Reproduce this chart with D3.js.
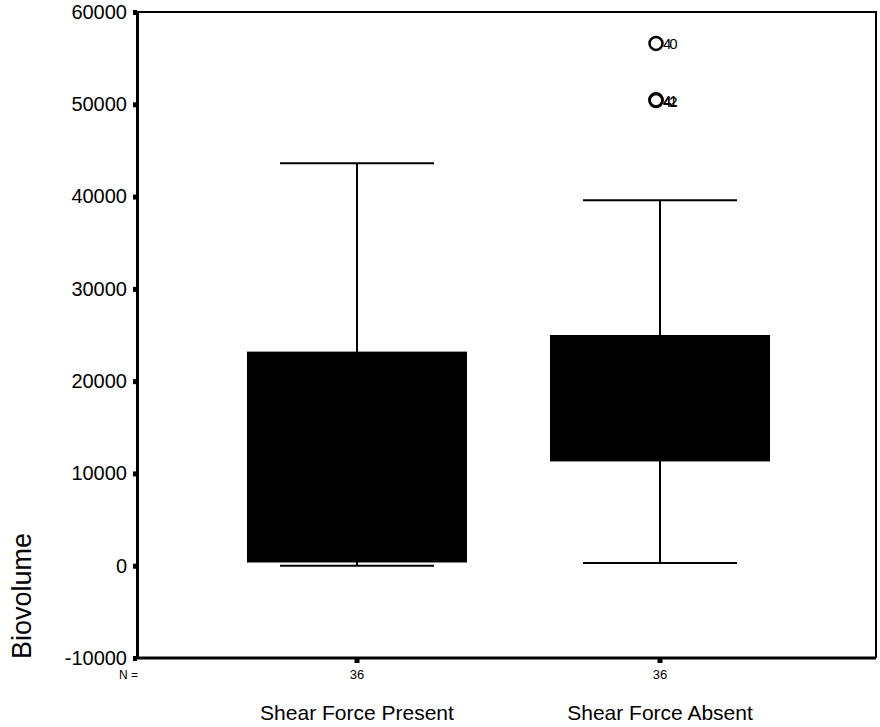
<!DOCTYPE html>
<html>
<head>
<meta charset="utf-8">
<script src="https://cdn.jsdelivr.net/npm/d3@7"></script>
<style>
  body { margin: 0; background: #fff; }
  svg { display: block; }
  text { font-family: "Liberation Sans", Arial, sans-serif; fill: #000; }
</style>
</head>
<body>
<svg id="chart" width="880" height="727"></svg>
<script>
"use strict";

// values (Biovolume by shear force group)
var categories   = ['Shear Force Present', 'Shear Force Absent'];
var counts       = [36, 36];
var whisker_low  = [0, 300];
var quartile_1   = [350, 11300];
var quartile_3   = [23200, 25000];
var whisker_high = [43600, 39600];

var outlier_groups = ['Shear Force Absent', 'Shear Force Absent', 'Shear Force Absent'];
var outlier_values = [56600, 50500, 50400];
var outlier_ids    = ['40', '41', '42'];

var y_ticks = [-10000, 0, 10000, 20000, 30000, 40000, 50000, 60000];

var svg = d3.select('#chart');
var frame = {left: 137, right: 876, top: 12, bottom: 658};

var x = d3.scaleBand()
  .domain(categories)
  .range([frame.left, 880])
  .paddingInner(0.274)
  .paddingOuter(0.363);

var y = d3.scaleLinear()
  .domain([-10000, 60000])
  .range([frame.bottom, frame.top]);

// plot frame: thin top/right, heavier left/bottom axes
svg.append('path')
  .attr('d', 'M' + frame.left + ',' + frame.top + 'H' + frame.right + 'V' + frame.bottom)
  .attr('fill', 'none')
  .attr('stroke', '#000')
  .attr('stroke-width', 2);

var y_axis = svg.append('g')
  .attr('transform', 'translate(' + frame.left + ',0)')
  .call(d3.axisLeft(y)
    .tickValues(y_ticks)
    .tickFormat(function(d) { return d < 0 ? '-' + Math.abs(d) : String(d); })
    .tickSize(4).tickSizeOuter(0).tickPadding(6));
y_axis.select('.domain').attr('stroke-width', 3);
y_axis.selectAll('.tick line').attr('stroke-width', 5);
y_axis.selectAll('.tick text')
  .attr('font-size', 20)
  .attr('font-family', '"Liberation Sans", Arial, sans-serif');

var x_axis = svg.append('g')
  .attr('transform', 'translate(0,' + frame.bottom + ')')
  .call(d3.axisBottom(x).tickSize(5).tickSizeOuter(0).tickFormat(''));
x_axis.select('.domain')
  .attr('d', 'M' + frame.left + ',0H' + frame.right)
  .attr('stroke-width', 3);
x_axis.selectAll('.tick line').attr('stroke-width', 5);

// N = row
svg.append('text')
  .attr('x', 119).attr('y', 679)
  .attr('font-size', 12)
  .text('N =');
svg.selectAll('.count')
  .data(categories)
  .enter().append('text')
  .attr('class', 'count')
  .attr('x', function(d) { return x(d) + x.bandwidth() / 2; })
  .attr('y', 679)
  .attr('text-anchor', 'middle')
  .attr('font-size', 13)
  .text(function(d, i) { return counts[i]; });

// category labels
svg.selectAll('.category')
  .data(categories)
  .enter().append('text')
  .attr('class', 'category')
  .attr('x', function(d) { return x(d) + x.bandwidth() / 2; })
  .attr('y', 720)
  .attr('text-anchor', 'middle')
  .attr('font-size', 21)
  .text(function(d) { return d; });

// y title
svg.append('text')
  .attr('transform', 'translate(31,596) rotate(-90)')
  .attr('text-anchor', 'middle')
  .attr('font-size', 27)
  .text('Biovolume');

// boxes
var boxes = svg.selectAll('.box')
  .data(categories)
  .enter().append('g')
  .attr('class', 'box');

var cap_width = x.bandwidth() * 0.7;
boxes.each(function(d, i) {
  var g = d3.select(this);
  var cx = x(d) + x.bandwidth() / 2;
  g.append('line')
    .attr('x1', cx).attr('x2', cx)
    .attr('y1', y(whisker_low[i])).attr('y2', y(whisker_high[i]))
    .attr('stroke', '#000').attr('stroke-width', 2);
  [whisker_low[i], whisker_high[i]].forEach(function(v) {
    g.append('line')
      .attr('x1', cx - cap_width / 2).attr('x2', cx + cap_width / 2)
      .attr('y1', y(v)).attr('y2', y(v))
      .attr('stroke', '#000').attr('stroke-width', 2);
  });
  g.append('rect')
    .attr('x', x(d))
    .attr('y', y(quartile_3[i]))
    .attr('width', x.bandwidth())
    .attr('height', y(quartile_1[i]) - y(quartile_3[i]))
    .attr('fill', '#000');
});

// outliers
var outliers = svg.selectAll('.outlier')
  .data(outlier_values)
  .enter().append('g')
  .attr('class', 'outlier');
outliers.append('circle')
  .attr('cx', function(d, i) { return x(outlier_groups[i]) + x.bandwidth() / 2 - 4; })
  .attr('cy', function(d) { return y(d); })
  .attr('r', 6.5)
  .attr('fill', 'none')
  .attr('stroke', '#000')
  .attr('stroke-width', 2.5);
outliers.append('text')
  .attr('x', function(d, i) { return x(outlier_groups[i]) + x.bandwidth() / 2 + 3; })
  .attr('y', function(d) { return y(d) + 6; })
  .attr('font-size', 15)
  .attr('letter-spacing', -2)
  .text(function(d, i) { return outlier_ids[i]; });
</script>
</body>
</html>
